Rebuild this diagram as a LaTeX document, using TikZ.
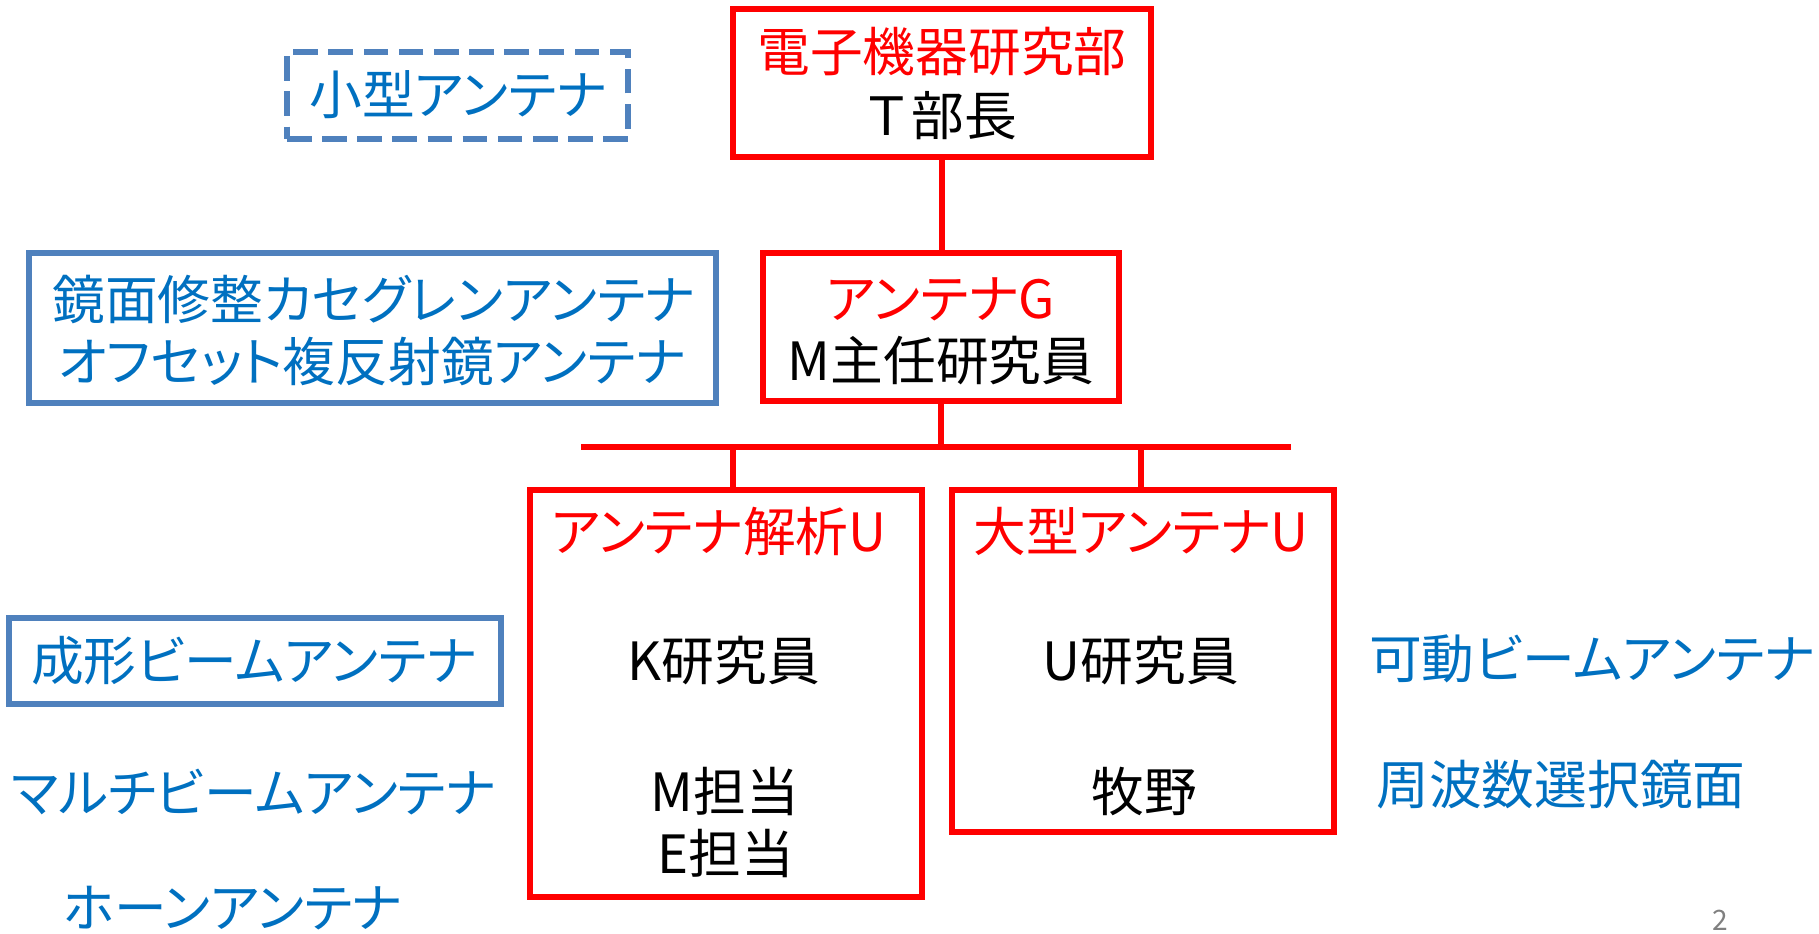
\documentclass[tikz,border=0pt]{standalone}
\usepackage{fontspec}
\setmainfont{Noto Sans CJK JP}[RawFeature=+palt]
\definecolor{rd}{HTML}{FF0000}
\definecolor{bt}{HTML}{0070C0}
\definecolor{bb}{HTML}{4F81BD}
\begin{document}
\begin{tikzpicture}[x=0.1mm,y=-0.1mm,
  every node/.style={font=\fontsize{15pt}{18pt}\selectfont, inner sep=0pt},
  redbox/.style={draw=rd, line width=1.7pt, rectangle},
  bluebox/.style={draw=bb, line width=1.5pt, rectangle},
  conn/.style={draw=rd, line width=1.7pt},
  bluetext/.style={text=bt},
  redtext/.style={text=rd},
  blacktext/.style={text=black}]
\useasboundingbox (0,0) rectangle (1819,933);
\begin{scope}
\clip (0,0) rectangle (1819,933);
% boxes
\node[bluebox, dashed, dash pattern=on 7pt off 3pt, minimum width=34.1mm, minimum height=8.7mm] (small) at (457.5,95.5) {};
\node[bluetext] (smallt) at (458,95) {小型アンテナ};

\node[redbox, minimum width=41.8mm, minimum height=14.8mm] (top) at (942,83) {};
\node[redtext] (topa) at (942,52) {電子機器研究部};
\node[blacktext] (topb) at (942,116) {Ｔ\kern1.5pt 部長};

\node[redbox, minimum width=35.6mm, minimum height=14.8mm] (grp) at (941,327) {};
\node[redtext] (grpa) at (941,299) {アンテナG};
\node[blacktext] (grpb) at (941,361) {M主任研究員};

\node[bluebox, minimum width=68.7mm, minimum height=15mm] (cas) at (372.5,328) {};
\node[bluetext] (casa) at (374,299) {鏡面修整カセグレンアンテナ};
\node[bluetext] (casb) at (372,361) {オフセット複反射鏡アンテナ};

\node[redbox, minimum width=39.2mm, minimum height=40.7mm] (u1) at (726,693.5) {};
\node[redtext] (u1a) at (719,531) {アンテナ解析U};
\node[blacktext] (u1b) at (724,661) {K研究員};
\node[blacktext] (u1c) at (725,791) {M担当};
\node[blacktext] (u1d) at (726,853) {E担当};

\node[redbox, minimum width=38.2mm, minimum height=34.2mm] (u2) at (1143,661) {};
\node[redtext] (u2a) at (1141,531) {大型アンテナU};
\node[blacktext] (u2b) at (1141,661) {U研究員};
\node[blacktext] (u2c) at (1144,791) {牧野};

\node[bluebox, minimum width=49.2mm, minimum height=8.6mm] (sei) at (255,661) {};
\node[bluetext] (seit) at (254,661) {成形ビームアンテナ};
\node[bluetext] (multi) at (254,792) {マルチビームアンテナ};
\node[bluetext] (horn) at (233,908) {ホーンアンテナ};
\node[bluetext] (kado) at (1592,659) {可動ビームアンテナ};
\node[bluetext] (fss) at (1561,785) {周波数選択鏡面};

\node[text=gray, font=\fontsize{8pt}{10pt}\selectfont, anchor=south] (page) at (1720,931) {2};

% connectors
\coordinate (barL) at (581,447);
\coordinate (barR) at (1291,447);
\coordinate (d1) at (733,447);
\coordinate (d2) at (1141,447);
\draw[conn] (top.south) -- (top.south |- grp.north);
\draw[conn] (grp.south) -- (grp.south |- barL);
\draw[conn] (barL) -- (barR);
\draw[conn] (d1) -- (d1 |- u1.north);
\draw[conn] (d2) -- (d2 |- u2.north);
\end{scope}
\end{tikzpicture}
\end{document}
